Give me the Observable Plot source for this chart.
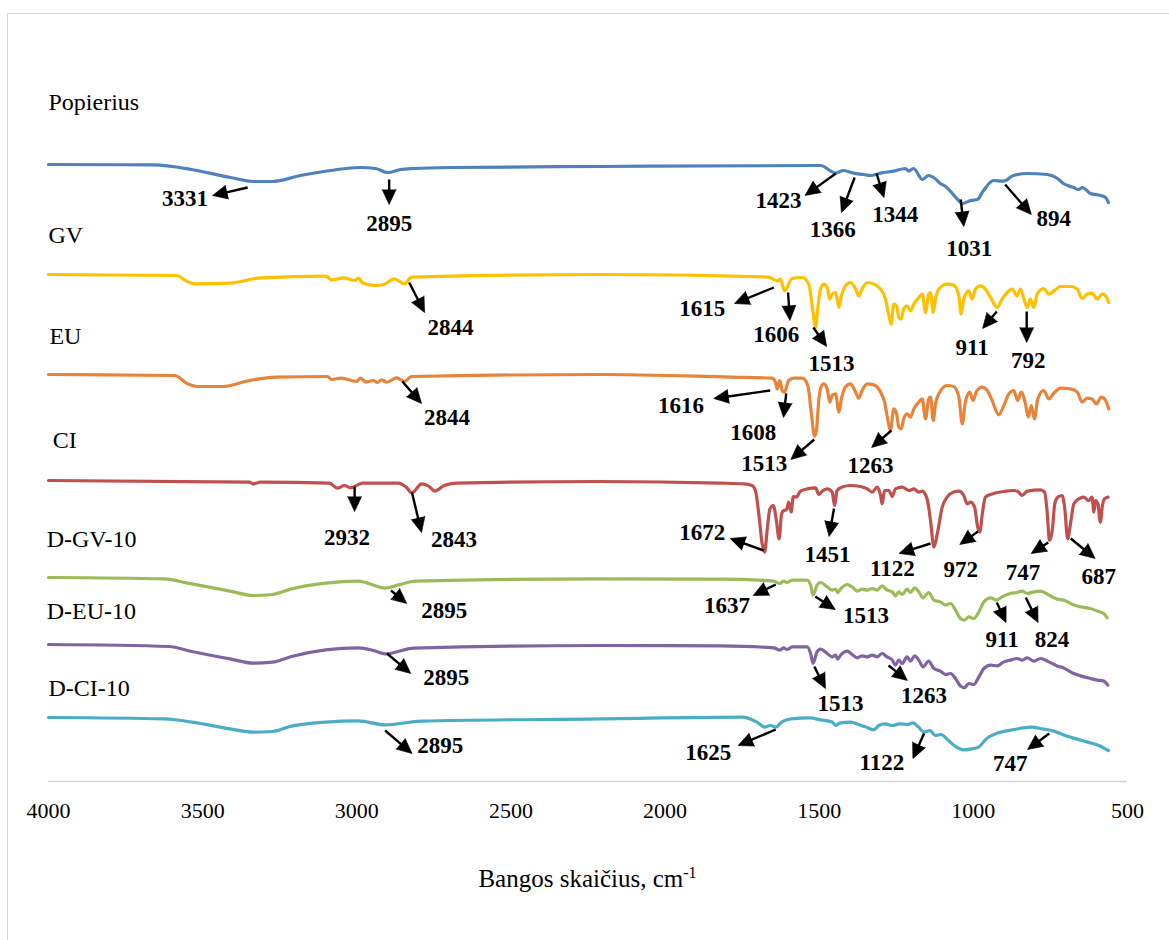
<!DOCTYPE html>
<html>
<head>
<meta charset="utf-8">
<script src="https://cdn.jsdelivr.net/npm/d3@7"></script>
<script src="https://cdn.jsdelivr.net/npm/@observablehq/plot@0.6"></script>
<style>
  html, body { margin: 0; padding: 0; background: #fff; overflow: hidden; }
  #wrap { position: relative; width: 1169px; height: 940px; }
  #frame { position: absolute; left: 7px; top: 13px; width: 1200px; height: 1000px;
           border: 1.5px solid #d9d9d9; box-sizing: border-box; }
  #chart { position: absolute; left: 0; top: 0; }
</style>
</head>
<body>
<div id="wrap"><div id="frame"></div><div id="chart"></div></div>
<script>
// FTIR spectra, offset vertically; values are relative transmittance (a.u.)
const seriesNames   = ["Popierius", "GV", "EU", "CI", "D-GV-10", "D-EU-10", "D-CI-10"];
const seriesColors  = ["#4F81BD", "#FFC000", "#E8833A", "#C0504D", "#9BBB59", "#8064A2", "#4BACC6"];
const seriesOffsets = [308.5, 253.5, 203.5, 150.5, 102, 68.5, 32];
// series name placement [wavenumber, a.u.]
const seriesLabelAt = [[4000, 339.5], [4000, 273], [3997, 222.8], [3986, 170.6], [4006, 121], [4006, 85], [4000, 46.8]];

// [wavenumber cm-1, relative transmittance]
const popierius = [[4000,0],[3659,-0.2],[3536,-2.5],[3410,-6.5],[3335,-8.5],[3273,-8.5],[3183,-5.5],[3085,-3],[2988,-1.5],[2939,-2],[2900,-4],[2858,-2.5],[2816,-2],[2696,-1.5],[2209,-1],[1496,-0.5],[1447,-4.3],[1421,-3],[1389,-4.3],[1356,-5],[1334,-5.5],[1301,-4.3],[1259,-3.3],[1220,-2],[1210,-3.3],[1194,-2],[1165,-7.5],[1146,-5.5],[1129,-6.5],[1107,-9.5],[1090,-11],[1068,-14.5],[1051,-17.5],[1035,-19.5],[1009,-18],[987,-17.5],[967,-13],[935,-8],[902,-8.3],[870,-5.5],[824,-4.5],[760,-5],[727,-7],[708,-9.5],[675,-11.5],[659,-12.5],[646,-11.5],[620,-14.5],[588,-15.5],[571,-16.5],[562,-19]];

const gv = [[4000,0],[3585,-0.5],[3547,-3.8],[3523,-4.7],[3410,-4.3],[3312,-1.7],[3101,-0.8],[3082,-2.7],[3040,-1.7],[3007,-3],[2994,-1.8],[2981,-4.3],[2939,-5.5],[2913,-5],[2878,-2.2],[2845,-4.7],[2822,-1.3],[2209,0],[1665,-1.3],[1636,-3.2],[1626,-2.3],[1612,-8.2],[1588,-2],[1555,-1.5],[1534,-4.8],[1520,-19],[1512,-26.5],[1505,-17.3],[1496,-7.3],[1485,-4.8],[1474,-6.5],[1466,-12.3],[1458,-9.8],[1447,-9],[1436,-16.5],[1428,-10.7],[1415,-5.7],[1399,-4],[1382,-7.3],[1372,-10.7],[1361,-7.3],[1344,-4],[1323,-4.8],[1301,-7.3],[1285,-12.3],[1274,-20.7],[1267,-24.8],[1258,-14.8],[1249,-15.7],[1242,-21.5],[1234,-22.3],[1226,-17.3],[1215,-15.7],[1204,-18.2],[1193,-14.8],[1177,-11.5],[1166,-9.8],[1155,-19],[1145,-9.8],[1139,-9],[1130,-19],[1123,-12.3],[1112,-7.3],[1085,-4.8],[1064,-5.3],[1047,-10.7],[1040,-19.8],[1031,-12.3],[1015,-8.2],[1004,-12.3],[993,-7.3],[977,-5.7],[961,-7.3],[944,-11.5],[923,-16.5],[907,-12.3],[890,-9],[874,-7.3],[858,-10.7],[847,-7.3],[836,-12.3],[825,-16.5],[815,-12.3],[804,-16.5],[793,-9.8],[772,-7],[755,-9.8],[739,-8.2],[717,-6],[685,-6],[663,-7.3],[647,-12],[631,-9.8],[615,-9.3],[598,-12.3],[582,-9.8],[571,-10.7],[561,-14]];

const eu = [[4000,0],[3591,-0.5],[3548,-4.7],[3517,-6],[3436,-6],[3348,-3],[3262,-1.3],[3095,-1],[3082,-2.5],[3051,-1.8],[3001,-3.5],[2988,-1.8],[2970,-3.8],[2946,-3],[2933,-4],[2920,-2.7],[2902,-3.8],[2871,-1.7],[2845,-3.5],[2823,-1],[2209,0],[1788,-1.3],[1653,-1.8],[1642,-3.8],[1636,-7.2],[1628,-3],[1620,-8],[1613,-8.8],[1599,-3],[1583,-1.8],[1555,-1.8],[1537,-5.5],[1526,-18.8],[1515,-30.8],[1509,-28],[1501,-12.2],[1494,-6.3],[1485,-4.7],[1474,-7.2],[1466,-13.8],[1458,-10.5],[1447,-9.7],[1436,-18.8],[1428,-12.2],[1415,-6.3],[1399,-4.7],[1382,-8.8],[1372,-11.8],[1361,-8],[1344,-4.7],[1323,-5.2],[1301,-8.8],[1288,-13.8],[1278,-22.2],[1269,-28],[1258,-17.2],[1249,-19.7],[1242,-26.3],[1234,-27.2],[1226,-22.2],[1215,-19.7],[1204,-21.3],[1193,-17.2],[1177,-13.8],[1166,-12.2],[1155,-22.2],[1145,-12.2],[1139,-11.3],[1130,-23],[1123,-14.7],[1112,-9.7],[1085,-5.5],[1064,-6],[1047,-11.3],[1036,-24.7],[1026,-13.8],[1012,-8.8],[1001,-13],[990,-8.5],[971,-6.3],[955,-8],[939,-13],[918,-20.2],[901,-15.5],[885,-9.7],[869,-8],[856,-13],[845,-8.8],[831,-14.7],[822,-21.3],[812,-15.5],[802,-22.2],[791,-12.2],[772,-8],[755,-12.2],[741,-9.7],[717,-6.8],[685,-7.2],[663,-8.8],[647,-13.8],[631,-11.8],[615,-12.2],[601,-14.7],[585,-11.3],[571,-13],[561,-17.2]];

const ci = [[4000,0],[3348,-0.8],[3336,-1.7],[3312,-0.8],[3089,-1.3],[3063,-3.8],[3040,-2.5],[3020,-3.7],[2982,-1.3],[2865,-1.3],[2840,-3.3],[2821,-6.2],[2790,-1.7],[2765,-3],[2747,-5.3],[2716,-2.5],[2679,-1.3],[2210,-0.5],[1820,-1.3],[1745,-1.7],[1718,-2.5],[1707,-5],[1696,-16.7],[1685,-31.7],[1677,-35.8],[1669,-25],[1660,-14.2],[1649,-12.5],[1639,-20],[1630,-29.2],[1622,-16.7],[1615,-15],[1606,-14.7],[1599,-10.8],[1591,-15.8],[1584,-8],[1574,-8.3],[1561,-5.3],[1539,-4.2],[1512,-3.7],[1501,-7],[1490,-5.3],[1474,-4.2],[1458,-5.8],[1450,-12.5],[1442,-5],[1425,-3.3],[1399,-2.5],[1366,-3],[1344,-4.2],[1328,-5.8],[1312,-3.3],[1301,-7.5],[1296,-11.7],[1288,-5],[1274,-5],[1263,-8],[1253,-4.2],[1231,-3.3],[1209,-5],[1193,-4.2],[1177,-5.8],[1166,-5.3],[1150,-9.2],[1139,-20],[1128,-33.3],[1117,-26.7],[1101,-13.3],[1085,-8.3],[1064,-5.8],[1047,-5.3],[1031,-7.5],[1020,-11.7],[1009,-10.8],[996,-13.3],[986,-23.3],[979,-25.8],[971,-16.7],[961,-8.3],[939,-6.7],[901,-5.5],[869,-5],[853,-5.8],[842,-7.5],[825,-5.3],[782,-4.7],[769,-5.8],[761,-15],[753,-30],[744,-25],[736,-11.7],[726,-8.3],[712,-7.5],[704,-13.3],[694,-29.2],[685,-21.7],[674,-11.7],[658,-9.2],[642,-8.3],[626,-10],[615,-8.3],[609,-15.8],[604,-10],[596,-11.7],[588,-20.8],[582,-13.3],[575,-9.2],[563,-8.3]];

const dgv10 = [[4000,0],[3622,-0.7],[3548,-2.8],[3411,-6.8],[3336,-9],[3274,-8.5],[3212,-5.7],[3101,-2.8],[2995,-1.8],[2908,-5.3],[2865,-3.7],[2809,-1.8],[2210,-0.7],[1820,-0.8],[1647,-1.8],[1628,-3],[1615,-1.8],[1604,-2.5],[1588,-1.3],[1539,-1.3],[1528,-3.8],[1520,-8.8],[1507,-3.8],[1496,-2.5],[1474,-4.7],[1458,-6.3],[1447,-5.8],[1440,-7.5],[1431,-5.8],[1409,-3.5],[1393,-4.7],[1377,-6.8],[1361,-5.8],[1344,-6.3],[1328,-5.5],[1312,-6.3],[1296,-4.2],[1280,-6.3],[1263,-7.2],[1253,-9.2],[1242,-7.2],[1231,-8.5],[1215,-5.8],[1204,-7.5],[1190,-5.2],[1177,-7.2],[1163,-10.2],[1145,-7.5],[1128,-11.3],[1107,-12.2],[1090,-13.8],[1074,-13],[1058,-16.3],[1042,-20.5],[1029,-21.3],[1015,-19.7],[999,-20.5],[982,-17.2],[966,-12.2],[944,-10.2],[925,-11.3],[907,-9.7],[880,-8],[858,-7.5],[842,-6.8],[825,-8],[804,-7.2],[782,-6.8],[755,-8.8],[728,-10.8],[707,-11.3],[674,-13.8],[652,-14.7],[620,-15.5],[598,-16.8],[577,-18],[566,-20.2]];

const deu10 = [[4000,0],[3610,-1],[3535,-3.5],[3411,-7.2],[3336,-9.3],[3274,-8.8],[3212,-6],[3101,-2.7],[2995,-1.7],[2946,-3],[2908,-4.7],[2815,-1.8],[2210,-0.5],[1820,-0.7],[1647,-1.7],[1628,-2.8],[1615,-1.7],[1604,-2.5],[1588,-1.2],[1539,-1.2],[1528,-4.5],[1520,-9.5],[1507,-3.7],[1496,-2.3],[1474,-4.5],[1458,-6.2],[1447,-5.3],[1440,-7.3],[1429,-5],[1409,-3.3],[1393,-5],[1377,-6.7],[1361,-5.7],[1344,-6.2],[1328,-5.3],[1312,-6.2],[1296,-4.5],[1280,-6.2],[1263,-7.8],[1253,-10.3],[1242,-7.8],[1231,-9.5],[1215,-6.2],[1204,-8.3],[1190,-5.7],[1177,-7.8],[1163,-11.2],[1145,-8.3],[1128,-12],[1107,-13.3],[1090,-15],[1074,-14.5],[1058,-17],[1042,-20.7],[1029,-21.7],[1015,-19.5],[999,-20],[982,-16.2],[966,-12],[944,-10.3],[923,-10.7],[901,-8.7],[880,-7.8],[858,-7],[842,-7.8],[825,-6.7],[804,-8.3],[782,-7],[755,-8.7],[728,-10.7],[707,-11.7],[674,-14.5],[652,-15.7],[620,-17],[598,-17.8],[577,-18.3],[564,-20.3]];

const dci10 = [[4000,0],[3622,-0.7],[3535,-2.3],[3411,-5.7],[3336,-7.3],[3274,-7],[3212,-4.3],[3101,-2.3],[2995,-1.7],[2908,-3.7],[2790,-1.8],[2210,-0.7],[1751,0.2],[1702,-2.3],[1677,-4.8],[1659,-4],[1641,-4.8],[1622,-2.3],[1592,-0.7],[1531,-0.2],[1495,-1.2],[1458,-2.3],[1446,-4],[1434,-2.8],[1397,-2.3],[1373,-3.5],[1348,-4.8],[1324,-6.2],[1306,-4],[1287,-3.2],[1263,-4],[1239,-3.2],[1214,-3.5],[1196,-2.7],[1178,-4.8],[1160,-7.3],[1141,-6.5],[1123,-9],[1105,-8.5],[1086,-10.7],[1062,-14],[1031,-16.2],[1007,-15.7],[983,-14.8],[958,-10.7],[922,-7.8],[873,-6.2],[812,-4.8],[776,-5.7],[739,-6.8],[702,-9],[666,-10.7],[629,-12.3],[593,-14],[562,-16.5]];

const spectra = [popierius, gv, eu, ci, dgv10, deu10, dci10];

const xTicks = [4000, 3500, 3000, 2500, 2000, 1500, 1000, 500];

// peak callouts: [label, label cm-1, label a.u., arrow start cm-1, start a.u., arrow tip cm-1, tip a.u.]
const peakNotes = [
  ["3331", 3557, 291.5, 3354, 297, 3468, 293],
  ["2895", 2895, 279, 2895, 301, 2895, 288.5],
  ["1423", 1632, 290.5, 1446, 304, 1546, 293],
  ["1366", 1456, 276, 1385, 302, 1428, 284.5],
  ["1344", 1253, 283.5, 1314, 304, 1290, 292],
  ["1031", 1013, 266.5, 1041, 291, 1031, 277.5],
  ["894", 739, 281.5, 897, 298.5, 812, 283.5],
  ["2844", 2696, 227, 2830, 249.5, 2780, 234.5],
  ["1615", 1879, 236.5, 1647, 247, 1775, 239],
  ["1606", 1639, 223.5, 1601, 244.5, 1595, 230.5],
  ["1513", 1460, 209, 1519, 227, 1476, 217.5],
  ["911", 1004, 217, 924, 235, 970, 226.5],
  ["792", 822, 210.5, 827, 235, 827, 219.5],
  ["2844", 2707, 182, 2852, 200, 2790, 189],
  ["1616", 1948, 188, 1659, 195.5, 1842, 191.5],
  ["1608", 1714, 174.5, 1607, 194, 1616, 182],
  ["1513", 1678, 159, 1516, 171, 1592, 161],
  ["1263", 1334, 158, 1266, 175.5, 1330, 167],
  ["2932", 3032, 122, 3007, 147.5, 3007, 135],
  ["2843", 2685, 121, 2821, 144.5, 2790, 124.5],
  ["1672", 1879, 124.5, 1680, 115.5, 1789, 121.5],
  ["1451", 1473, 113.5, 1452, 136.5, 1468, 122.5],
  ["1122", 1263, 106.5, 1139, 119, 1241, 114],
  ["972", 1041, 106, 985, 125, 1044, 118.5],
  ["747", 839, 104.5, 757, 119.5, 812, 114],
  ["687", 593, 102.5, 684, 121.5, 605, 111.5],
  ["2895", 2716, 85.5, 2889, 95.5, 2838, 89],
  ["1637", 1799, 88, 1641, 98.5, 1714, 93],
  ["1513", 1348, 83, 1513, 92.5, 1448, 86],
  ["911", 907, 71, 924, 89.5, 894, 79.5],
  ["824", 745, 71, 830, 92, 790, 79.5],
  ["2895", 2710, 52, 2902, 64, 2825, 54],
  ["1513", 1431, 39, 1516, 57.5, 1480, 46.5],
  ["1263", 1160, 43, 1275, 58, 1214, 50.5],
  ["2895", 2729, 18, 2908, 25.5, 2821, 14],
  ["1625", 1860, 14.5, 1641, 26, 1763, 18],
  ["1122", 1297, 9.5, 1160, 24, 1196, 11.5],
  ["747", 880, 9, 754, 24, 824, 16]
];

// layout
const W = 1169, H = 940;
const mL = 48, mR = 42, mT = 15, mB = 159;
const xDomain = [4000, 500];
const yDomain = [0, 383];
const kx = (W - mL - mR) / Math.abs(xDomain[0] - xDomain[1]);  // px per cm-1
const ky = (H - mT - mB) / (yDomain[1] - yDomain[0]);           // px per a.u.

const rows = spectra.flatMap((s, i) =>
  s.map(([wn, v]) => ({series: seriesNames[i], wn, t: v + seriesOffsets[i]})));

// arrow geometry in screen space: direction for the head, shaft stops under the head
const headLen = 15;
const arrows = peakNotes.map(([label, lx, ly, fx, fy, tx, ty]) => {
  const dxp = -(tx - fx) * kx;   // x axis runs right-to-left in cm-1
  const dyp = -(ty - fy) * ky;
  const len = Math.hypot(dxp, dyp);
  const ux = dxp / len, uy = dyp / len;
  return {
    fx, fy, tx, ty,
    sx: tx + (ux * (headLen - 4)) / kx,
    sy: ty + (uy * (headLen - 4)) / ky,
    angle: Math.atan2(dxp, -dyp) * 180 / Math.PI
  };
});

const serif = "'Liberation Serif', 'Times New Roman', Times, serif";

const plot = Plot.plot({
  width: W,
  height: H,
  marginLeft: mL,
  marginRight: mR,
  marginTop: mT,
  marginBottom: mB,
  style: {fontFamily: serif, fontSize: "22px", color: "#000", background: "transparent", overflow: "visible"},
  x: {domain: xDomain, ticks: xTicks, tickFormat: d => String(d), tickSize: 0, tickPadding: 21, label: null},
  y: {domain: yDomain, axis: null},
  color: {domain: seriesNames, range: seriesColors},
  marks: [
    Plot.ruleY([0], {stroke: "#d4d4d4", strokeWidth: 1.6}),
    Plot.line(rows, {x: "wn", y: "t", z: "series", stroke: "series", strokeWidth: 3.2,
                     curve: "monotone-x", strokeLinejoin: "round", strokeLinecap: "round"}),
    Plot.text(seriesNames, {
      x: (d, i) => seriesLabelAt[i][0], y: (d, i) => seriesLabelAt[i][1],
      text: d => d, textAnchor: "start", fontSize: 24, fill: "#000"
    }),
    Plot.link(arrows, {x1: "fx", y1: "fy", x2: "sx", y2: "sy", stroke: "#000", strokeWidth: 2.4}),
    Plot.vector(arrows, {x: "tx", y: "ty", rotate: "angle", length: headLen, r: 7,
                         shape: "spike", anchor: "end", fill: "#000", stroke: "#000", strokeWidth: 0.6}),
    Plot.text(peakNotes, {
      x: d => d[1], y: d => d[2], text: d => d[0],
      fontWeight: "bold", fontSize: 23, fill: "#000"
    })
  ]
});

// x axis title with a superscript unit
const svg = d3.select(plot);
const title = svg.append("text")
  .attr("x", (mL + W - mR) / 2)
  .attr("y", H - mB + 106)
  .attr("text-anchor", "middle")
  .attr("fill", "#000")
  .style("font-family", serif)
  .style("font-size", "25px");
title.append("tspan").text("Bangos skaičius, cm");
title.append("tspan").attr("dy", -9).style("font-size", "16px").text("-1");

document.getElementById("chart").appendChild(plot);
</script>
</body>
</html>
